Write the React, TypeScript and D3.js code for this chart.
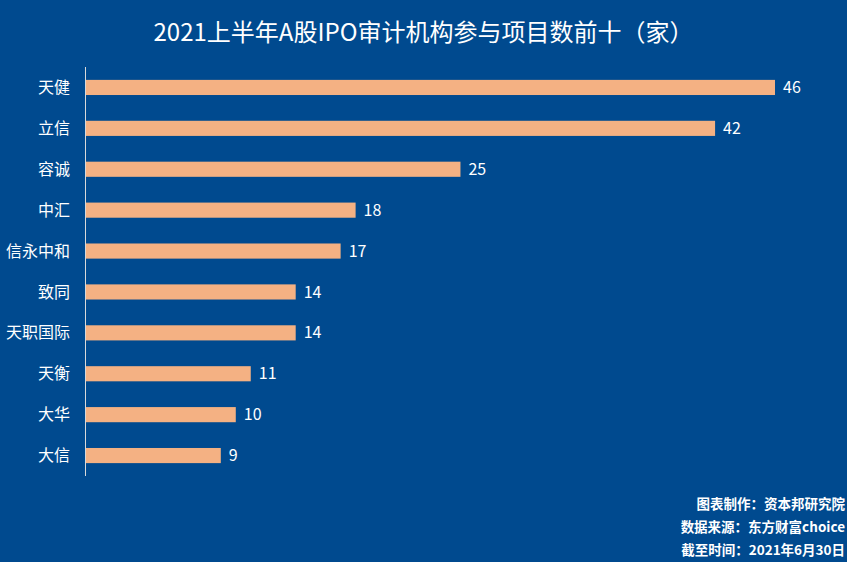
import React from "react";
import * as d3 from "d3";

const categories = ["天健", "立信", "容诚", "中汇", "信永中和", "致同", "天职国际", "天衡", "大华", "大信"];
const values = [46, 42, 25, 18, 17, 14, 14, 11, 10, 9];
const title = "2021上半年A股IPO审计机构参与项目数前十（家）";
const notes = ["图表制作：资本邦研究院", "数据来源：东方财富choice", "截至时间：2021年6月30日"];

const W = 847;
const H = 562;
const FONT = "'Noto Sans CJK SC', 'Noto Sans', sans-serif";

export default function App() {
  const x = d3.scaleLinear().domain([0, 46]).range([86, 775]);
  const y = d3.scaleBand<string>().domain(categories).range([67, 476]).paddingInner(0.63).paddingOuter(0.315);
  return (
    <svg width={W} height={H} style={{ position: "absolute", left: 0, top: 0, display: "block" }}>
      <rect x={0} y={0} width={W} height={H} fill="#004a8f" />
      <text x={W / 2} y={41} textAnchor="middle" fill="#ffffff" fontSize={24} fontFamily={FONT}>{title}</text>
      {categories.map((c, i) => (
        <g key={c}>
          <rect x={x(0)} y={y(c)!} width={x(values[i]) - x(0)} height={y.bandwidth()} fill="#f4b183" />
          <text x={x(values[i]) + 8} y={y(c)! + y.bandwidth() / 2} dy="0.35em" fill="#ffffff" fontSize={16} fontFamily={FONT}>{values[i]}</text>
          <text x={70} y={y(c)! + y.bandwidth() / 2} dy="0.35em" textAnchor="end" fill="#ffffff" fontSize={16} fontFamily={FONT}>{c}</text>
        </g>
      ))}
      <line x1={85.5} x2={85.5} y1={67} y2={476} stroke="#d9d9d9" strokeWidth={1} />
      {notes.map((n, i) => (
        <text key={n} x={845} y={509 + i * 23} textAnchor="end" fill="#ffffff" fontSize={13.5} fontWeight="bold" fontFamily={FONT}>{n}</text>
      ))}
    </svg>
  );
}
